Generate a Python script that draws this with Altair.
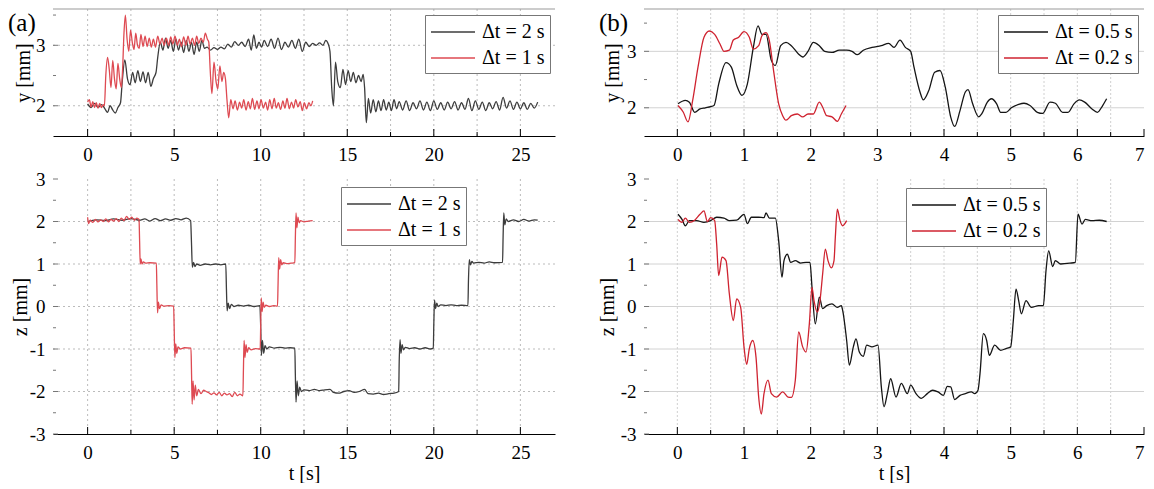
import altair as alt
import pandas as pd

FONT = "Liberation Serif"

# ---------------- data (t [s], value [mm]) ----------------
A_Y_2S = [(0.0,2.03),(0.2,1.97),(0.4,2.04),(0.6,1.97),(0.8,2.02),(1.0,1.95),(1.15,1.89),(1.3,2.0),(1.45,1.93),(1.6,1.88),(1.75,1.97),(1.9,2.05),
(2.0,2.4),(2.15,2.76),(2.3,2.45),(2.45,2.35),(2.6,2.55),(2.75,2.38),(2.9,2.58),(3.05,2.4),(3.2,2.56),(3.35,2.38),(3.5,2.55),(3.65,2.32),(3.8,2.45),(3.95,2.55),
(4.05,2.8),(4.2,3.05),(4.35,2.92),(4.5,3.12),(4.65,2.95),(4.8,3.08),(4.95,2.9),(5.1,3.1),(5.25,2.92),(5.4,3.05),(5.55,2.88),(5.7,3.08),(5.85,2.9),(6.0,3.05),(6.15,2.85),(6.3,3.05),(6.45,2.9),(6.6,3.08),(6.75,2.95),(6.9,2.97),
(7.1,2.92),(7.3,2.96),(7.5,2.93),(7.7,2.97),(7.9,2.94),(8.1,3.02),(8.3,2.97),(8.5,3.06),(8.7,3.0),(8.9,3.05),(9.1,2.98),(9.3,3.1),(9.45,2.92),(9.6,3.17),(9.75,2.95),(9.9,3.05),(10.05,2.97),(10.2,3.08),(10.4,2.98),(10.6,3.1),(10.8,2.95),(11.0,3.12),(11.2,2.93),(11.4,3.05),(11.6,2.97),(11.8,3.08),(12.0,2.95),(12.2,3.1),(12.4,2.9),(12.6,3.05),(12.8,2.98),(13.0,3.03),(13.2,3.0),(13.4,3.04),(13.6,3.0),(13.75,3.08),(13.9,3.02),(14.0,2.9),
(14.1,2.3),(14.2,2.0),(14.32,2.72),(14.45,2.4),(14.6,2.3),(14.75,2.6),(14.9,2.35),(15.05,2.58),(15.2,2.4),(15.35,2.55),(15.5,2.38),(15.65,2.5),(15.8,2.4),(15.92,2.52),(16.0,2.3),
(16.1,1.72),(16.22,2.12),(16.35,1.88),(16.5,2.1),(16.65,1.9),(16.8,2.08),(16.95,1.92),(17.1,2.1),(17.25,1.93),(17.4,2.06),(17.55,1.92),(17.7,2.1),(17.85,1.95),(18.0,2.07),(18.2,1.93),(18.4,2.08),(18.6,1.92),(18.8,2.05),(19.0,1.95),(19.2,2.08),(19.4,1.93),(19.6,2.06),(19.8,1.92),(20.0,2.08),(20.2,1.94),(20.4,2.05),(20.6,1.93),(20.8,2.06),(21.0,1.95),(21.2,2.07),(21.4,1.93),(21.6,2.05),(21.8,1.94),(22.0,2.12),(22.2,1.92),(22.4,2.08),(22.6,1.94),(22.8,2.06),(23.0,1.92),(23.2,2.05),(23.4,1.95),(23.6,2.07),(23.8,1.93),(24.0,2.14),(24.2,1.96),(24.4,2.08),(24.6,1.94),(24.8,2.06),(25.0,1.95),(25.2,2.05),(25.4,1.94),(25.6,2.04),(25.8,1.96),(26.0,2.06)]

A_Y_1S = [(0.0,2.06),(0.1,2.1),(0.2,1.98),(0.3,2.07),(0.4,1.97),(0.5,2.05),(0.6,1.96),(0.7,2.04),(0.8,1.97),(0.9,2.02),(0.97,2.0),
(1.05,2.5),(1.15,2.8),(1.25,2.6),(1.35,2.3),(1.45,2.75),(1.55,2.45),(1.65,2.28),(1.75,2.7),(1.85,2.45),(1.95,2.3),(2.02,2.6),
(2.1,3.2),(2.18,3.5),(2.28,3.1),(2.38,2.9),(2.48,3.25),(2.58,3.05),(2.68,2.93),(2.78,3.2),(2.88,3.0),(2.98,2.95),(3.08,3.18),(3.2,2.98),(3.32,3.15),(3.44,2.98),(3.56,3.12),(3.68,2.97),(3.8,3.1),(3.92,2.97),(4.05,3.15),(4.18,3.02),(4.3,3.12),(4.42,3.0),(4.55,3.12),(4.68,3.0),(4.8,3.14),(4.92,3.02),(5.05,3.15),(5.18,3.0),(5.3,3.1),(5.42,2.98),(5.55,3.14),(5.68,3.0),(5.8,3.15),(5.92,3.02),(6.05,3.12),(6.18,3.0),(6.3,3.15),(6.42,3.03),(6.55,3.12),(6.68,3.05),(6.8,3.2),(6.92,3.1),(7.0,3.05),
(7.08,2.6),(7.18,2.2),(7.3,2.72),(7.42,2.4),(7.52,2.28),(7.64,2.66),(7.76,2.4),(7.86,2.55),(7.96,2.45),(8.05,2.1),
(8.15,1.8),(8.27,2.1),(8.4,1.95),(8.52,2.08),(8.65,1.93),(8.78,2.06),(8.9,1.96),(9.02,2.1),(9.15,1.93),(9.28,2.07),(9.4,1.95),(9.52,2.12),(9.65,1.94),(9.78,2.08),(9.9,1.95),(10.02,2.1),(10.15,1.96),(10.28,2.06),(10.4,1.93),(10.52,2.1),(10.65,1.95),(10.78,2.12),(10.9,1.96),(11.02,2.05),(11.15,1.94),(11.28,2.08),(11.4,1.96),(11.52,2.12),(11.65,1.95),(11.78,2.06),(11.9,1.96),(12.02,2.1),(12.15,1.98),(12.28,2.07),(12.4,1.92),(12.52,2.05),(12.65,1.95),(12.78,2.05),(12.9,2.0),(13.0,2.08)]

A_Z_2S = [(0.0,2.0),(0.5,2.04),(1.0,2.02),(1.5,2.06),(2.0,2.03),(2.5,2.07),(3.0,2.03),(3.3,2.06),(3.6,2.01),(3.9,2.07),(4.2,2.02),(4.5,2.06),(4.8,2.03),(5.1,2.07),(5.4,2.04),(5.7,2.08),(5.95,2.02),
(6.0,1.5),(6.05,0.92),(6.12,1.04),(6.2,0.94),(6.3,1.0),(6.5,0.97),(6.8,1.0),(7.1,0.98),(7.4,1.0),(7.7,0.98),(7.98,1.0),
(8.02,0.4),(8.06,-0.1),(8.12,0.08),(8.2,-0.05),(8.3,0.05),(8.45,0.0),(8.7,0.03),(9.0,0.01),(9.3,0.03),(9.6,0.0),(9.95,0.02),
(10.0,-0.5),(10.04,-1.15),(10.1,-0.8),(10.17,-1.1),(10.25,-0.92),(10.35,-1.0),(10.5,-0.95),(10.8,-0.98),(11.1,-0.96),(11.4,-0.98),(11.7,-0.97),(11.97,-0.98),
(12.0,-1.6),(12.04,-2.25),(12.1,-1.75),(12.17,-2.1),(12.25,-1.9),(12.35,-2.0),(12.5,-1.96),(12.8,-1.98),(13.1,-1.95),(13.4,-1.98),(13.7,-1.96),(14.0,-1.95),(14.2,-2.02),(14.5,-2.04),(14.8,-2.0),(15.1,-1.98),(15.4,-2.02),(15.7,-2.0),(16.0,-1.95),(16.2,-2.05),(16.5,-2.06),(16.8,-2.04),(17.1,-2.07),(17.4,-2.05),(17.7,-2.04),(17.97,-2.0),
(18.0,-1.3),(18.05,-0.78),(18.1,-1.1),(18.17,-0.9),(18.25,-1.02),(18.35,-0.96),(18.6,-0.99),(18.9,-0.97),(19.2,-1.0),(19.5,-0.97),(19.8,-1.0),(19.97,-0.98),
(20.0,-0.4),(20.04,0.15),(20.1,-0.05),(20.17,0.08),(20.25,0.0),(20.4,0.04),(20.7,0.02),(21.0,0.04),(21.3,0.02),(21.6,0.03),(21.97,0.02),
(22.0,0.6),(22.05,1.1),(22.12,0.98),(22.2,1.06),(22.3,1.02),(22.6,1.04),(22.9,1.02),(23.2,1.05),(23.5,1.03),(23.97,1.04),
(24.0,1.6),(24.04,2.2),(24.1,1.92),(24.18,2.06),(24.3,2.0),(24.6,2.04),(24.9,2.0),(25.2,2.05),(25.5,2.01),(25.8,2.04),(26.0,2.03)]

A_Z_1S = [(0.0,2.1),(0.05,1.95),(0.15,2.03),(0.3,1.98),(0.45,2.05),(0.6,1.99),(0.75,2.04),(0.9,2.0),(1.05,2.06),(1.2,1.99),(1.35,2.05),(1.5,2.01),(1.65,2.07),(1.8,2.0),(1.95,2.08),(2.1,2.02),(2.25,2.12),(2.4,2.05),(2.55,2.1),(2.7,2.03),(2.85,2.08),(2.97,2.05),
(3.0,1.6),(3.04,1.0),(3.08,1.12),(3.14,1.0),(3.22,1.05),(3.35,1.02),(3.6,1.03),(3.97,1.02),
(4.0,0.5),(4.04,-0.15),(4.09,0.1),(4.15,-0.05),(4.25,0.04),(4.4,0.01),(4.7,0.02),(4.97,0.01),
(5.0,-0.5),(5.04,-1.2),(5.09,-0.88),(5.15,-1.1),(5.22,-0.95),(5.35,-1.0),(5.6,-0.97),(5.97,-0.98),
(6.0,-1.5),(6.04,-2.3),(6.09,-1.75),(6.15,-2.2),(6.22,-1.85),(6.3,-2.1),(6.4,-1.95),(6.55,-2.05),(6.7,-1.97),(6.85,-2.0),(7.0,-2.03),(7.15,-2.07),(7.3,-2.03),(7.45,-2.08),(7.6,-2.02),(7.75,-2.1),(7.9,-2.04),(8.05,-2.08),(8.2,-2.05),(8.35,-2.12),(8.5,-2.02),(8.65,-2.1),(8.8,-2.06),(8.97,-2.1),
(9.0,-1.5),(9.04,-0.8),(9.09,-1.2),(9.15,-0.9),(9.22,-1.08),(9.3,-0.97),(9.45,-1.02),(9.7,-0.99),(9.97,-1.0),
(10.0,-0.4),(10.03,0.2),(10.08,-0.12),(10.14,0.1),(10.2,-0.02),(10.3,0.03),(10.5,0.0),(10.75,0.02),(10.97,0.01),
(11.0,0.5),(11.04,1.15),(11.09,0.88),(11.15,1.1),(11.22,0.98),(11.3,1.03),(11.5,1.01),(11.75,1.02),(11.97,1.03),
(12.0,1.6),(12.04,2.2),(12.09,1.85),(12.15,2.1),(12.22,1.97),(12.3,2.02),(12.5,1.99),(12.75,2.01),(13.0,2.02)]

B_Y_05 = [(0.01,2.07),(0.12,2.13),(0.18,2.1),(0.26,1.92),(0.34,1.98),(0.42,2.0),(0.5,2.02),(0.55,2.04),(0.62,2.42),(0.73,2.8),(0.81,2.72),(0.89,2.4),(0.97,2.22),(1.05,2.42),(1.14,3.07),(1.21,3.45),(1.27,3.3),(1.33,3.3),(1.41,2.84),(1.47,2.75),(1.55,3.1),(1.63,3.16),(1.71,3.1),(1.82,2.95),(1.88,2.9),(1.96,3.0),(2.04,3.16),(2.13,3.1),(2.21,3.0),(2.32,2.98),(2.43,3.02),(2.54,3.02),(2.62,3.0),(2.7,2.94),(2.79,3.02),(2.92,3.07),(3.06,3.1),(3.17,3.14),(3.25,3.07),(3.34,3.2),(3.42,3.07),(3.5,3.0),(3.55,2.72),(3.64,2.28),(3.69,2.14),(3.77,2.3),(3.86,2.63),(3.94,2.66),(4.02,2.36),(4.1,1.84),(4.16,1.67),(4.24,1.95),(4.32,2.28),(4.36,2.32),(4.43,2.07),(4.52,1.84),(4.57,1.9),(4.65,2.1),(4.71,2.16),(4.79,2.07),(4.85,1.92),(4.93,1.92),(5.01,2.0),(5.12,2.06),(5.2,2.08),(5.29,2.04),(5.4,1.92),(5.48,1.9),(5.59,2.1),(5.67,2.08),(5.78,1.92),(5.86,1.92),(5.95,2.07),(6.03,2.14),(6.11,2.1),(6.22,1.98),(6.3,1.92),(6.38,2.04),(6.44,2.16)]

B_Y_02 = [(0.01,2.04),(0.09,1.92),(0.16,1.75),(0.23,2.13),(0.31,2.72),(0.4,3.25),(0.48,3.36),(0.56,3.3),(0.64,3.13),(0.7,3.0),(0.78,3.02),(0.84,3.2),(0.92,3.25),(1.0,3.35),(1.08,3.25),(1.14,3.04),(1.22,3.1),(1.27,3.28),(1.33,3.33),(1.38,3.19),(1.44,2.69),(1.52,2.07),(1.58,1.86),(1.63,1.78),(1.71,1.86),(1.8,1.89),(1.88,1.84),(1.96,1.89),(2.04,1.89),(2.13,2.1),(2.18,2.01),(2.24,1.86),(2.32,1.84),(2.4,1.76),(2.46,1.89),(2.53,2.04)]

B_Z_05 = [(0.01,2.17),(0.07,2.05),(0.12,1.9),(0.18,2.02),(0.29,2.02),(0.4,1.98),(0.5,2.02),(0.59,2.1),(0.7,2.08),(0.78,2.02),(0.89,2.03),(1.0,2.17),(1.05,1.95),(1.11,2.1),(1.22,2.1),(1.3,2.09),(1.33,2.2),(1.38,2.08),(1.47,2.08),(1.52,1.55),(1.57,0.69),(1.6,1.08),(1.65,1.23),(1.7,1.04),(1.77,1.08),(1.85,1.02),(1.93,1.04),(1.99,1.04),(2.02,0.45),(2.07,-0.41),(2.13,0.22),(2.18,-0.05),(2.24,0.02),(2.32,0.06),(2.4,-0.02),(2.46,0.02),(2.48,-0.09),(2.54,-0.8),(2.58,-1.38),(2.64,-0.95),(2.68,-0.76),(2.73,-1.07),(2.79,-1.17),(2.84,-0.91),(2.92,-0.95),(3.01,-0.91),(3.06,-1.89),(3.1,-2.36),(3.15,-2.05),(3.2,-1.7),(3.28,-2.13),(3.36,-1.81),(3.45,-2.05),(3.5,-1.85),(3.58,-2.05),(3.66,-2.16),(3.75,-2.05),(3.83,-1.97),(3.91,-2.01),(3.99,-2.09),(4.05,-1.88),(4.1,-1.89),(4.16,-2.19),(4.24,-2.09),(4.32,-2.05),(4.41,-2.01),(4.46,-2.05),(4.51,-1.97),(4.54,-1.58),(4.59,-0.64),(4.64,-0.8),(4.68,-1.15),(4.76,-0.91),(4.85,-1.03),(4.93,-0.99),(5.0,-0.95),(5.04,-0.33),(5.08,0.41),(5.12,0.14),(5.16,-0.17),(5.23,0.14),(5.31,-0.02),(5.42,0.02),(5.49,0.02),(5.53,0.84),(5.57,1.31),(5.63,0.94),(5.67,1.08),(5.75,1.0),(5.89,1.02),(5.97,1.04),(6.01,2.17),(6.07,1.94),(6.12,2.05),(6.22,2.02),(6.33,2.03),(6.44,2.0)]

B_Z_02 = [(0.01,2.05),(0.07,1.98),(0.12,2.08),(0.18,1.98),(0.26,2.03),(0.34,2.17),(0.4,2.25),(0.45,2.0),(0.5,2.09),(0.56,2.02),(0.59,1.47),(0.62,0.73),(0.67,1.16),(0.73,1.08),(0.78,0.3),(0.84,-0.33),(0.89,0.18),(0.95,-0.02),(1.0,-0.95),(1.04,-1.36),(1.08,-0.99),(1.13,-0.8),(1.18,-1.19),(1.22,-2.13),(1.26,-2.53),(1.3,-2.05),(1.36,-1.73),(1.41,-2.05),(1.49,-2.13),(1.58,-2.01),(1.66,-2.13),(1.71,-2.14),(1.77,-1.73),(1.82,-0.6),(1.88,-0.95),(1.93,-1.07),(1.98,-0.41),(2.02,0.45),(2.05,0.14),(2.1,-0.13),(2.14,0.14),(2.18,0.77),(2.22,1.35),(2.26,1.08),(2.31,0.91),(2.35,1.08),(2.37,1.63),(2.4,2.29),(2.44,2.02),(2.48,1.9),(2.54,2.02)]

A_LABELS = ["\u0394t = 2 s", "\u0394t = 1 s"]
B_LABELS = ["\u0394t = 0.5 s", "\u0394t = 0.2 s"]
A_COLORS = ["#3d3d3d", "#de4a52"]
B_COLORS = ["#151515", "#cf2330"]
TAGS = ["(a)", "(b)"]

A_X_MAJOR = [0, 5, 10, 15, 20, 25]
A_X_MINOR = [2.5, 7.5, 12.5, 17.5, 22.5]
B_X_MAJOR = [0, 1, 2, 3, 4, 5, 6, 7]
B_X_MINOR = [0.5, 1.5, 2.5, 3.5, 4.5, 5.5, 6.5]
Y_MAJOR = [2, 3]
Y_MINOR = [2.5, 3.5]
Z_MAJOR = [-3, -2, -1, 0, 1, 2, 3]
Z_MINOR = [-2.5, -1.5, -0.5, 0.5, 1.5, 2.5]
Z_GRID = [-2, -1, 0, 1, 2]


def panel(series, labels, colors, xdom, ydom, w, h, xmaj, xmin, ymaj, ymin,
          xgrid, ygrid, vstyle, hstyle, ytitle, ytitle_x, xtitle, leg_x, leg_y,
          tag=None, top_line=False):
    df = pd.concat([pd.DataFrame(rows, columns=["t", "v"]).assign(series=lab)
                    for rows, lab in zip(series, labels)], ignore_index=True)
    xs = alt.Scale(domain=xdom, nice=False, zero=False)
    ys = alt.Scale(domain=ydom, nice=False, zero=False)

    xaxis_kw = dict(values=xmaj, grid=False, ticks=False, domain=True, domainColor="black",
                    domainWidth=1, labelFont=FONT, labelFontSize=19, labelColor="black",
                    labelPadding=9, labelExpr="'' + datum.value", labelFlush=True)
    if xtitle:
        xaxis_kw.update(title=xtitle, titleFont=FONT, titleFontSize=20, titleFontWeight="normal",
                        titleColor="black", titleY=39, titleBaseline="middle")
    else:
        xaxis_kw.update(title=None)
    xaxis = alt.Axis(**xaxis_kw)
    yaxis = alt.Axis(values=ymaj, grid=False, ticks=False, domain=False, labelFont=FONT,
                     labelFontSize=19, labelColor="black", labelPadding=8,
                     labelExpr="'' + datum.value", title=ytitle, titleFont=FONT,
                     titleFontSize=20, titleFontWeight="normal", titleColor="black",
                     titleAngle=270, titleX=ytitle_x, titleY=h / 2, titleBaseline="middle")
    X = alt.X("t:Q", scale=xs, axis=xaxis)
    Y = alt.Y("v:Q", scale=ys, axis=yaxis)

    vg = alt.Chart(pd.DataFrame({"t": xgrid})).mark_rule(**vstyle).encode(x=X)
    hg = alt.Chart(pd.DataFrame({"v": ygrid})).mark_rule(**hstyle).encode(y=Y)
    xtM = alt.Chart(pd.DataFrame({"t": xmaj})).mark_rule(color="black", strokeWidth=1).encode(
        x=X, y=alt.value(h), y2=alt.value(h - 7))
    xtm = alt.Chart(pd.DataFrame({"t": xmin})).mark_rule(color="black", strokeWidth=1).encode(
        x=X, y=alt.value(h), y2=alt.value(h - 4))
    ytM = alt.Chart(pd.DataFrame({"v": ymaj})).mark_rule(color="#777777", strokeWidth=1).encode(
        y=Y, x=alt.value(0), x2=alt.value(5))
    ytm = alt.Chart(pd.DataFrame({"v": ymin})).mark_rule(color="#777777", strokeWidth=1).encode(
        y=Y, x=alt.value(0), x2=alt.value(3))

    lines = alt.Chart(df).mark_line(strokeWidth=1.3, clip=True, interpolate="monotone").encode(
        x=X, y=Y,
        color=alt.Color("series:N",
                        scale=alt.Scale(domain=labels, range=colors),
                        legend=alt.Legend(orient="none", legendX=leg_x, legendY=leg_y,
                                          title=None, symbolType="M-1,0H3", symbolSize=484,
                                          symbolStrokeWidth=1.4, labelFont=FONT,
                                          labelFontSize=20, labelColor="black",
                                          labelOffset=28, padding=5, fillColor="white",
                                          strokeColor="#777777", rowPadding=4)),
    )
    layers = [vg, hg, xtM, xtm, ytM, ytm, lines]
    if top_line:
        layers.append(alt.Chart(pd.DataFrame({"k": [0]})).mark_rule(color="#999999", strokeWidth=1).encode(
            x=alt.value(0), x2=alt.value(w), y=alt.value(0)))
    if tag:
        layers.append(alt.Chart(pd.DataFrame({"tag": [tag]})).mark_text(
            align="left", baseline="middle", font=FONT, fontSize=25, color="black").encode(
            text="tag:N", x=alt.value(-45), y=alt.value(14)))
    return alt.layer(*layers).properties(width=w, height=h)


A_V = dict(color="#aaaaaa", strokeDash=[2, 3], strokeWidth=0.8)
A_H = dict(color="#aaaaaa", strokeDash=[2, 3], strokeWidth=0.8)
B_V = dict(color="#c4c4c4", strokeDash=[2, 2], strokeWidth=0.8)
B_H = dict(color="#d2d2d2", strokeWidth=1)

WA, WB, HT, HB = 502, 500, 127, 255

a_top = panel([A_Y_2S, A_Y_1S], A_LABELS, A_COLORS, [-2, 27], [1.5, 3.6], WA, HT,
              A_X_MAJOR, A_X_MINOR, Y_MAJOR, Y_MINOR, A_X_MAJOR + A_X_MINOR, Y_MAJOR,
              A_V, A_H, "y [mm]", -30, None, 372, 6, tag=TAGS[0], top_line=True)
a_bot = panel([A_Z_2S, A_Z_1S], A_LABELS, A_COLORS, [-2, 27], [-3, 3], WA, HB,
              A_X_MAJOR, A_X_MINOR, Z_MAJOR, Z_MINOR, A_X_MAJOR + A_X_MINOR, Z_GRID,
              A_V, A_H, "z [mm]", -33, "t [s]", 288, 8)
b_top = panel([B_Y_05, B_Y_02], B_LABELS, B_COLORS, [-0.5, 7], [1.5, 3.75], WB, HT,
              B_X_MAJOR, B_X_MINOR, Y_MAJOR, Y_MINOR, B_X_MAJOR[:-1] + B_X_MINOR, Y_MAJOR,
              B_V, B_H, "y [mm]", -32, None, 354, 6, tag=TAGS[1], top_line=True)
b_bot = panel([B_Z_05, B_Z_02], B_LABELS, B_COLORS, [-0.5, 7], [-3, 3], WB, HB,
              B_X_MAJOR, B_X_MINOR, Z_MAJOR, Z_MINOR, B_X_MAJOR[:-1] + B_X_MINOR, Z_GRID,
              B_V, B_H, "z [mm]", -37, "t [s]", 262, 9)

chart = (
    alt.concat(a_top, b_top, a_bot, b_bot, columns=2, spacing={"row": 43, "column": 89},
               bounds="flush")
    .resolve_scale(x="independent", y="independent", color="independent")
    .resolve_legend(color="independent")
    .properties(padding=0)
    .configure_view(stroke=None)
)

chart.save("out.html", embed_options={"renderer": "svg", "actions": False})
